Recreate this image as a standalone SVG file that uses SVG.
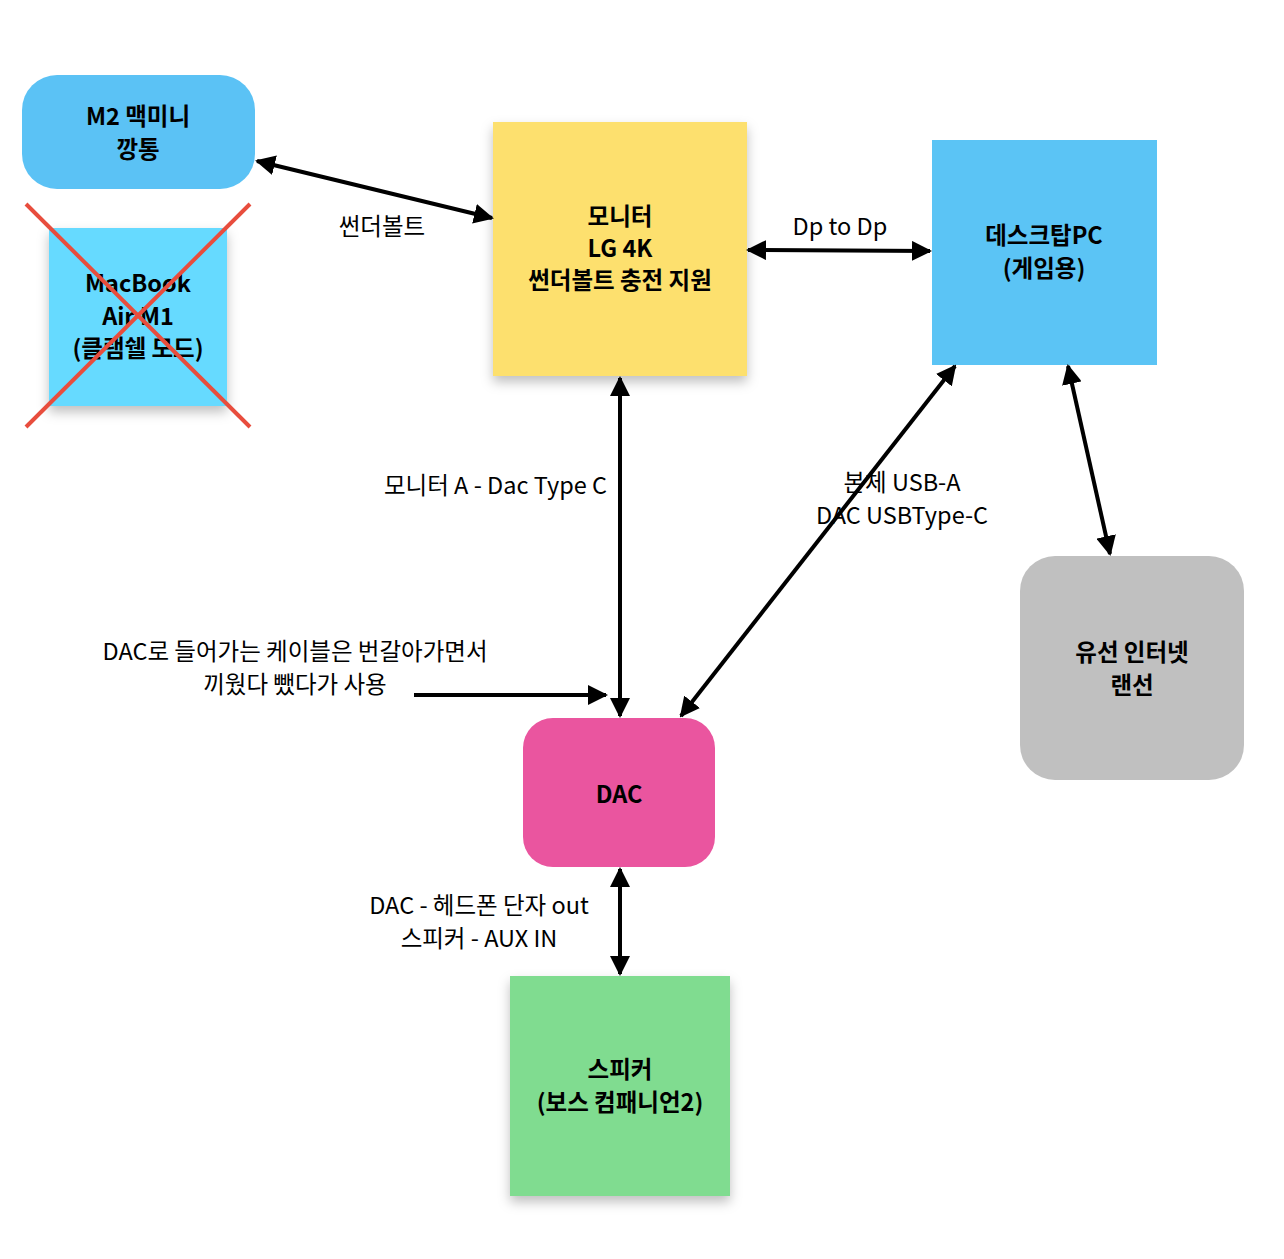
<svg xmlns="http://www.w3.org/2000/svg" width="1284" height="1259" viewBox="0 0 1284 1259">
<style>
text{font-family:"Noto Sans CJK KR","Noto Sans",sans-serif;font-size:23.5px;fill:#000;text-anchor:middle}
.b{font-weight:bold}
.c line{stroke:#000;stroke-width:4;fill:none}
.x{stroke:#E84D3D;stroke-width:4}
</style>
<defs>
<marker id="a" viewBox="0 0 10 10" refX="9" refY="5" markerWidth="5" markerHeight="5" orient="auto-start-reverse"><path d="M0,0L10,5L0,10z" fill="#000"/></marker>
<filter id="s" x="-20%" y="-20%" width="140%" height="150%"><feDropShadow dx="0" dy="6" stdDeviation="6" flood-color="#000" flood-opacity="0.25"/></filter>
</defs>
<rect width="1284" height="1259" fill="#fff"/>
<g id="m2"><rect x="22" y="75" width="233" height="114" rx="35" fill="#5BC2F5"/><text class="b" x="138" y="125">M2 맥미니</text><text class="b" x="138" y="158">깡통</text></g>
<g id="macbook"><rect x="49" y="228" width="178" height="178" fill="#66DAFF" filter="url(#s)"/><text class="b" x="138" y="292">MacBook</text><text class="b" x="138" y="325">Air M1</text><text class="b" x="138" y="357">(클램쉘 모드)</text>
<line class="x" x1="26" y1="204" x2="250" y2="427"/><line class="x" x1="250" y1="204" x2="26" y2="427"/></g>
<g id="monitor"><rect x="493" y="122" width="254" height="254" fill="#FDE06E" filter="url(#s)"/><text class="b" x="620" y="225">모니터</text><text class="b" x="620" y="257">LG 4K</text><text class="b" x="620" y="289">썬더볼트 충전 지원</text></g>
<g id="pc"><rect x="932" y="140" width="225" height="225" fill="#5BC4F5"/><text class="b" x="1044" y="244">데스크탑PC</text><text class="b" x="1044" y="277">(게임용)</text></g>
<g id="internet"><rect x="1020" y="556" width="224" height="224" rx="35" fill="#C0C0C0"/><text class="b" x="1132" y="661">유선 인터넷</text><text class="b" x="1132" y="694">랜선</text></g>
<g id="dac"><rect x="523" y="718" width="192" height="149" rx="30" fill="#EA559F"/><text class="b" x="619" y="803">DAC</text></g>
<g id="speaker"><rect x="510" y="976" width="220" height="220" fill="#80DC90" filter="url(#s)"/><text class="b" x="620" y="1078">스피커</text><text class="b" x="620" y="1111">(보스 컴패니언2)</text></g>
<g id="connectors" class="c">
<line x1="257" y1="161" x2="492" y2="218" marker-start="url(#a)" marker-end="url(#a)"/>
<line x1="748" y1="250" x2="930" y2="251" marker-start="url(#a)" marker-end="url(#a)"/>
<line x1="620" y1="378" x2="620" y2="716" marker-start="url(#a)" marker-end="url(#a)"/>
<line x1="955" y1="366" x2="681" y2="716" marker-start="url(#a)" marker-end="url(#a)"/>
<line x1="1068" y1="366" x2="1110" y2="554" marker-start="url(#a)" marker-end="url(#a)"/>
<line x1="620" y1="869" x2="620" y2="974" marker-start="url(#a)" marker-end="url(#a)"/>
<line x1="414" y1="695" x2="606" y2="695" marker-end="url(#a)"/>
</g>
<g id="labels">
<text x="382" y="235">썬더볼트</text>
<text x="840" y="235">Dp to Dp</text>
<text x="607" y="494" style="text-anchor:end">모니터 A - Dac Type C</text>
<text x="902" y="491">본체 USB-A</text><text x="902" y="524">DAC USBType-C</text>
<text x="295" y="660">DAC로 들어가는 케이블은 번갈아가면서</text><text x="295" y="693">끼웠다 뺐다가 사용</text>
<text x="479" y="914">DAC - 헤드폰 단자 out</text><text x="479" y="947">스피커 - AUX IN</text>
</g>
</svg>
